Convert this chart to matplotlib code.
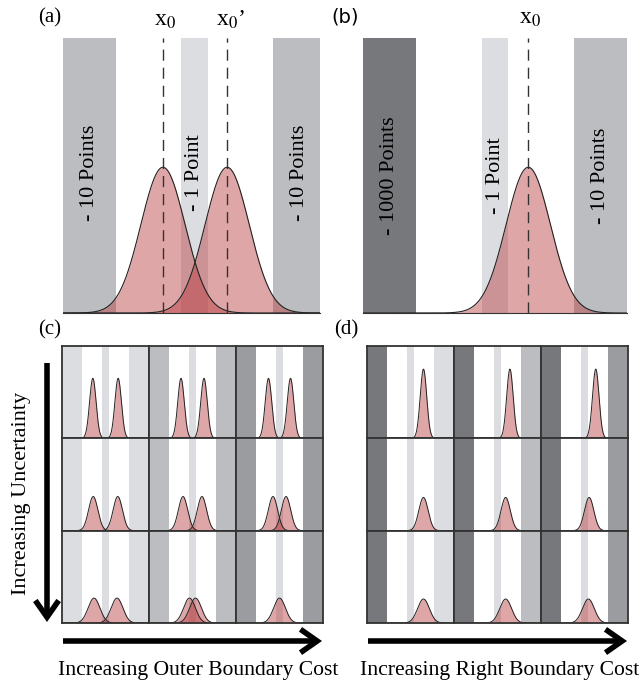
import numpy as np
import matplotlib.pyplot as plt
from matplotlib.patches import FancyArrowPatch

plt.rcParams['font.family'] = ['Liberation Serif', 'DejaVu Serif']
plt.rcParams['mathtext.fontset'] = 'stix'

W, H = 643, 681

# bar layout in x units (same for every panel)
bar_left = (0, 2)
bar_mid = (4.5, 5.5)
bar_right = (8, 10)

light = '#dcdde0'
mid = '#bbbdc0'
darker = '#9b9c9f'
dark = '#77787b'
fill_col = '#b83a3c'

# panel (a): two aim points, cost of outer bars = 10, middle = 1
a_means = [3.8, 6.24]
a_sigma = 0.84
a_height = 0.53
a_labels = ['- 10 Points', '- 1 Point', '- 10 Points']

# panel (b)
b_mean = 6.26
b_sigma = 0.84
b_height = 0.53
b_labels = ['- 1000 Points', '- 1 Point', '- 10 Points']

# panels (c) and (d): rows = uncertainty, cols = boundary cost
row_sigma = [0.42, 0.6, 0.76]
c_row_height = [0.65, 0.37, 0.27]
d_row_height = [0.75, 0.36, 0.26]
c_offsets = [[1.63, 1.48, 1.42],
             [1.58, 1.22, 0.84],
             [1.48, 0.39, 0.0]]
d_offsets = [[1.67, 1.60, 1.45],
             [1.67, 1.05, 0.60],
             [1.67, 1.05, 0.50]]
c_outer = [light, mid, darker]
d_right = [light, mid, darker]

fig = plt.figure(figsize=(W / 100, H / 100), dpi=100)


def px_axes(x0, y0, x1, y1):
    return fig.add_axes([x0 / W, 1 - y1 / H, (x1 - x0) / W, (y1 - y0) / H])


def bars(ax, cl, cm, cr):
    # outer bars run out to the panel edge
    ax.axvspan(-50, bar_left[1], color=cl, lw=0)
    ax.axvspan(*bar_mid, color=cm, lw=0)
    ax.axvspan(bar_right[0], 50, color=cr, lw=0)


def bump(ax, m, s, h, lw=0.8):
    lo, hi = ax.get_xlim()
    xs = np.linspace(lo, hi, 600)
    ys = h * np.exp(-0.5 * ((xs - m) / s) ** 2)
    ax.fill_between(xs, ys, color=fill_col, alpha=0.45, lw=0)
    ax.plot(xs, ys, color='#222222', lw=lw)


def clean(ax):
    ax.set_xticks([])
    ax.set_yticks([])


# ---- (a)
ax = px_axes(63, 38, 320, 313)
ax.set_xlim(0, 9.77)
ax.set_ylim(0, 1)
bars(ax, mid, light, mid)
for m in a_means:
    bump(ax, m, a_sigma, a_height)
    ax.plot([m, m], [0, 1], color='#333333', lw=1, dashes=(8, 5))
for (lo, hi), t in zip([bar_left, bar_mid, bar_right], a_labels):
    ax.text((lo + hi) / 2, 0.51, t, rotation=90, ha='center', va='center', fontsize=16)
clean(ax)
for s in ['top', 'left', 'right']:
    ax.spines[s].set_visible(False)
ax.spines['bottom'].set_color('#333333')
ax.spines['bottom'].set_linewidth(0.8)

# ---- (b)
ax = px_axes(363, 38, 627, 313)
ax.set_xlim(0, 10)
ax.set_ylim(0, 1)
bars(ax, dark, light, mid)
bump(ax, b_mean, b_sigma, b_height)
ax.plot([b_mean, b_mean], [0, 1], color='#333333', lw=1, dashes=(8, 5))
for (lo, hi), t in zip([bar_left, bar_mid, bar_right], b_labels):
    ax.text((lo + hi) / 2, 0.5, t, rotation=90, ha='center', va='center', fontsize=16)
clean(ax)
for s in ['top', 'left', 'right']:
    ax.spines[s].set_visible(False)
ax.spines['bottom'].set_color('#333333')
ax.spines['bottom'].set_linewidth(0.8)


# ---- (c) and (d) grids
def grid(x0, x1, y0, y1, left_cols, right_cols, offsets, heights, two):
    cw = (x1 - x0) / 3
    ch = (y1 - y0) / 3
    for r in range(3):
        for c in range(3):
            ax = px_axes(x0 + c * cw, y0 + r * ch, x0 + (c + 1) * cw, y0 + (r + 1) * ch)
            ax.set_xlim(-0.6, 10.6)
            ax.set_ylim(0, 1)
            bars(ax, left_cols[c], light, right_cols[c])
            off = offsets[r][c]
            if two:
                bump(ax, 5 - off, row_sigma[r], heights[r], lw=0.7)
                if off > 0:
                    bump(ax, 5 + off, row_sigma[r], heights[r], lw=0.7)
            else:
                bump(ax, 5 + off, row_sigma[r], heights[r], lw=0.7)
            ax.set_xlim(-0.6, 10.6)
            clean(ax)
            for s in ax.spines.values():
                s.set_color('#333333')
                s.set_linewidth(1.3)


grid(62, 323, 346, 623, c_outer, c_outer, c_offsets, c_row_height, True)
grid(367, 628, 346, 623, [dark] * 3, d_right, d_offsets, d_row_height, False)

# ---- text
fig.text(50 / W, 1 - 18 / H, '(a)', ha='center', va='center', fontsize=15)
fig.text(345 / W, 1 - 17 / H, '(b)', ha='center', va='center', fontsize=14,
         family='DejaVu Sans')
fig.text(50 / W, 1 - 330 / H, '(c)', ha='center', va='center', fontsize=15)
fig.text(346 / W, 1 - 330 / H, '(d)', ha='center', va='center', fontsize=15)

fig.text(165 / W, 1 - 20 / H, r'x$_0$', ha='center', va='center', fontsize=17)
fig.text(231 / W, 1 - 20 / H, r'x$_0$’', ha='center', va='center', fontsize=17)
fig.text(530 / W, 1 - 18 / H, r'x$_0$', ha='center', va='center', fontsize=17)

fig.text(22 / W, 1 - 493 / H, 'Increasing Uncertainty', rotation=90,
         ha='center', va='center', fontsize=16)
fig.text(198 / W, 1 - 670 / H, 'Increasing Outer Boundary Cost',
         ha='center', va='center', fontsize=15.6)
fig.text(500 / W, 1 - 670 / H, 'Increasing Right Boundary Cost',
         ha='center', va='center', fontsize=15.6)

# ---- arrows
arrows = [((47, 363), (47, 622)), ((63, 641), (322, 641)), ((368, 641), (627, 641))]
for (xa, ya), (xb, yb) in arrows:
    fig.add_artist(FancyArrowPatch((xa / W, 1 - ya / H), (xb / W, 1 - yb / H),
                                   transform=fig.transFigure,
                                   arrowstyle='->,head_length=0.6,head_width=0.42',
                                   mutation_scale=20, lw=4, color='black',
                                   shrinkA=0, shrinkB=0, joinstyle='miter',
                                   capstyle='butt'))

fig.savefig('out.png', dpi=100)
